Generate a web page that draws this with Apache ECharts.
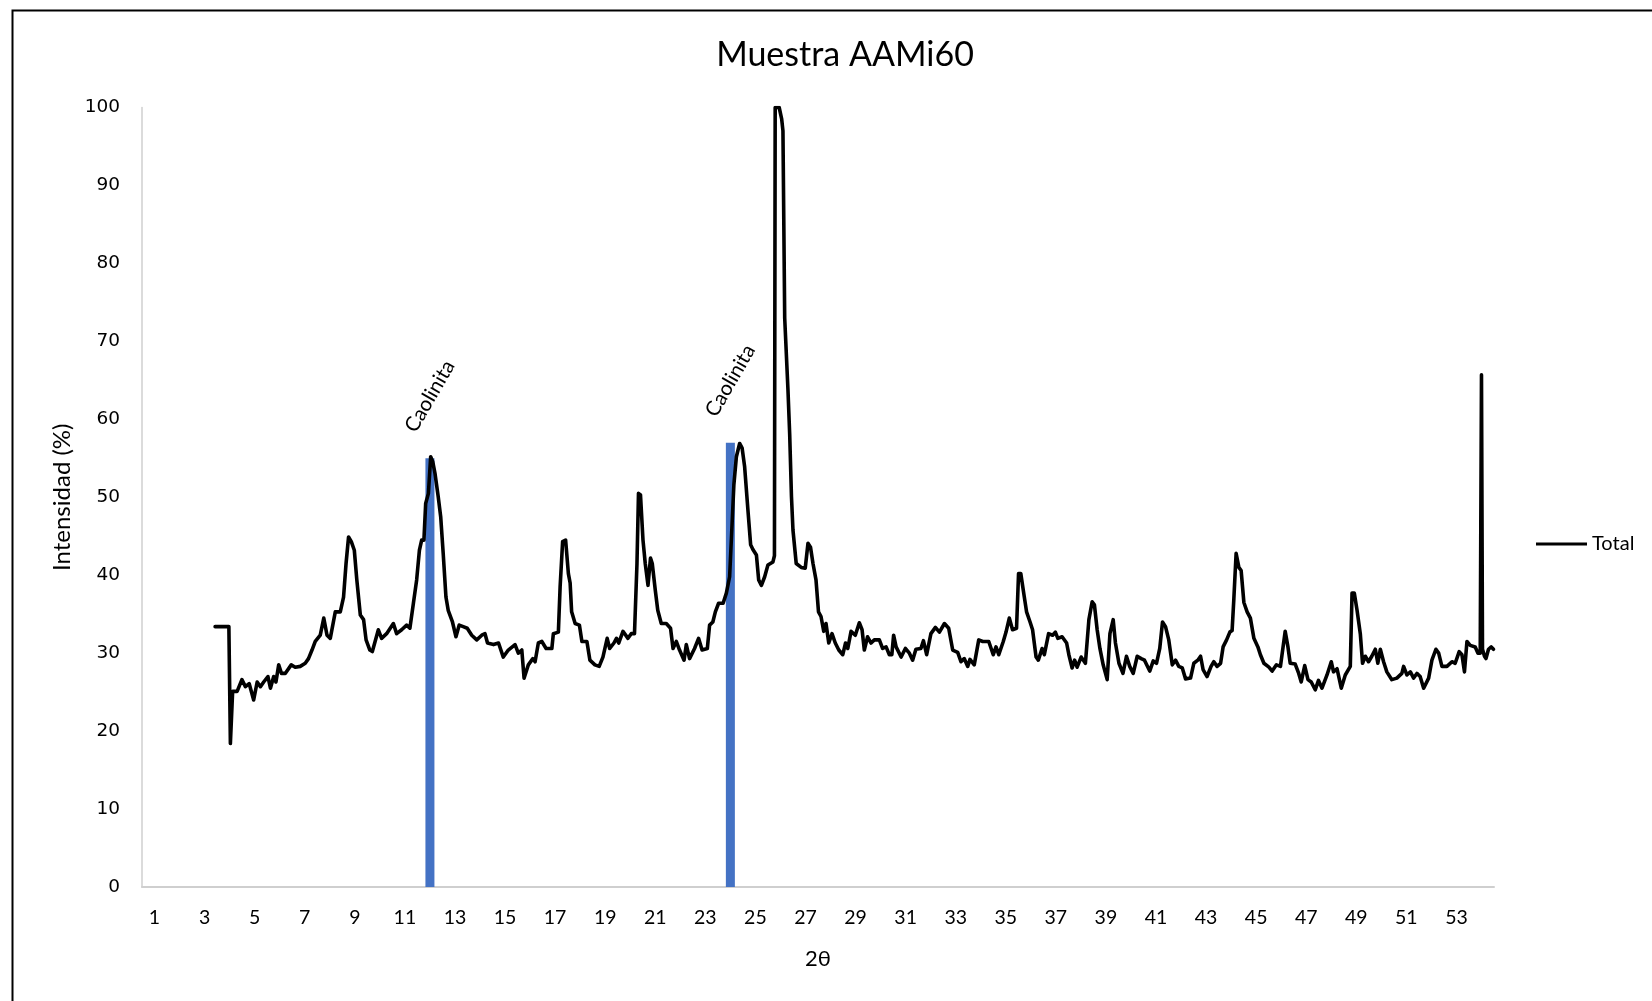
<!DOCTYPE html>
<html>
<head>
<meta charset="utf-8">
<script src="https://cdn.jsdelivr.net/npm/echarts@6/dist/echarts.min.js"></script>
<style>
html,body{margin:0;padding:0;background:#fff;}
#chart{width:1652px;height:1001px;}
</style>
</head>
<body>
<div id="chart"></div>
<script>
const chartTitle = 'Muestra AAMi60';
const seriesName = 'Total';
const peakLabel = 'Caolinita';
const xTickLabels = [1,3,5,7,9,11,13,15,17,19,21,23,25,27,29,31,33,35,37,39,41,43,45,47,49,51,53];
const peakPositions = [12, 24];
const peakHeights = [55, 57];

const twoTheta = [
3.42,3.97,4.03,4.12,4.30,4.49,4.63,4.78,4.96,5.10,5.23,5.36,5.53,5.63,5.76,5.85,5.96,6.07,6.22,6.46,6.62,6.82,7.02,7.15,7.29,7.42,7.62,7.76,7.89,8.02,8.22,8.42,8.55,8.65,8.75,8.86,8.98,9.08,9.22,9.35,9.45,9.60,9.70,
9.94,10.07,10.27,10.54,10.67,10.87,11.07,11.20,11.34,11.47,11.58,11.67,11.76,11.83,11.94,12.03,12.11,12.20,12.33,12.43,12.53,12.64,12.73,12.90,13.04,13.17,13.33,13.49,13.67,13.87,14.07,14.20,14.30,14.54,14.74,14.93,15.13,15.40,15.53,15.67,15.76,15.93,16.11,16.20,16.33,16.47,16.64,16.87,16.93,17.13,17.20,17.30,17.42,17.53,17.60,17.66,17.80,17.97,18.07,18.27,18.39,18.59,18.76,
18.91,19.08,19.18,19.35,19.45,19.54,19.71,19.91,20.04,20.17,20.27,20.33,20.41,20.51,20.60,20.71,20.81,20.88,21.00,21.10,21.24,21.44,21.61,21.71,21.84,21.97,22.15,22.24,22.37,22.57,22.73,22.87,23.08,23.17,23.30,23.40,23.53,23.71,23.84,23.97,24.07,24.14,24.24,24.37,24.47,24.57,24.70,24.81,24.90,25.04,25.13,25.24,25.37,25.50,25.70,25.76,25.79,25.95,26.05,26.10,26.17,26.30,26.37,26.44,26.50,26.63,26.83,26.99,27.10,27.20,27.30,27.42,27.52,27.62,27.73,27.82,
27.93,28.06,28.19,28.33,28.49,28.60,28.69,28.82,28.99,29.15,29.26,29.35,29.48,29.62,29.75,29.95,30.08,30.22,30.35,30.45,30.52,30.62,30.82,30.99,31.15,31.28,31.41,31.61,31.71,31.84,32.01,32.19,32.35,32.55,32.72,32.88,33.08,33.21,33.34,33.48,33.57,33.74,33.92,34.08,34.32,34.50,34.61,34.72,34.90,35.01,35.14,35.27,35.43,35.51,35.60,35.74,35.83,35.97,36.07,36.21,36.30,36.45,36.54,36.71,36.87,36.98,
37.08,37.25,37.43,37.52,37.65,37.75,37.85,38.01,38.18,38.32,38.45,38.54,38.65,38.76,38.89,39.05,39.16,39.29,39.38,39.52,39.68,39.82,39.95,40.09,40.25,40.41,40.54,40.75,40.89,41.02,41.15,41.26,41.38,41.51,41.65,41.78,41.91,42.05,42.18,42.38,42.51,42.67,42.78,42.88,43.04,43.20,43.31,43.44,43.58,43.68,43.82,43.95,44.04,44.11,44.20,44.31,44.40,44.51,44.64,44.77,44.91,45.07,45.17,45.31,45.51,45.64,45.81,45.97,
46.03,46.16,46.27,46.36,46.56,46.70,46.80,46.94,47.07,47.20,47.36,47.49,47.63,47.83,48.00,48.09,48.23,48.40,48.56,48.76,48.83,48.92,49.03,49.16,49.25,49.36,49.49,49.62,49.76,49.86,49.96,50.09,50.22,50.42,50.62,50.82,50.89,51.02,51.16,51.29,51.42,51.55,51.69,51.89,52.02,52.18,52.29,52.42,52.62,52.82,52.95,53.11,53.22,53.32,53.42,53.55,53.75,53.86,53.95,54.00,54.04,54.12,54.18,54.28,54.39,54.48
];

const intensity = [
33.4,33.4,18.4,25.1,25.1,26.6,25.7,26.1,24.0,26.3,25.7,26.3,27.0,25.5,27.0,26.3,28.5,27.4,27.4,28.5,28.2,28.3,28.7,29.3,30.4,31.5,32.3,34.5,32.3,31.9,35.3,35.3,37.2,41.5,44.9,44.3,43.2,39.4,34.9,34.3,31.7,30.4,30.2,
33.0,31.9,32.5,33.8,32.5,33.0,33.6,33.2,36.4,39.4,43.2,44.5,44.5,49.2,50.5,55.2,54.6,53.1,50.1,47.5,42.8,37.2,35.5,34.0,32.1,33.6,33.4,33.2,32.3,31.7,32.3,32.5,31.3,31.1,31.3,29.5,30.4,31.1,30.0,30.4,26.8,28.5,29.3,28.9,31.3,31.5,30.6,30.6,32.5,32.7,38.5,44.3,44.5,40.2,39.0,35.3,33.8,33.6,31.5,31.5,29.1,28.5,28.3,
29.5,31.9,30.6,31.3,31.9,31.3,32.8,31.9,32.5,32.5,41.5,50.5,50.3,44.5,41.5,38.7,42.2,41.5,38.1,35.5,33.8,33.8,33.2,30.6,31.5,30.4,29.1,31.1,29.3,30.6,31.9,30.4,30.6,33.6,34.0,35.3,36.4,36.4,37.7,39.8,46.7,51.6,55.2,56.9,56.3,53.9,48.4,43.9,43.3,42.6,39.4,38.7,39.8,41.3,41.7,42.5,100,100,98.5,97,73,63.8,58,50.1,45.8,41.5,41.0,40.9,44.1,43.6,41.5,39.4,35.3,34.7,32.8,33.8,
31.3,32.5,31.3,30.4,29.8,31.3,30.6,32.8,32.3,33.9,33.0,30.4,32.1,31.3,31.7,31.7,30.6,30.8,29.8,29.8,32.3,30.8,29.5,30.6,30.0,29.1,30.5,30.6,31.6,29.8,32.5,33.3,32.7,33.8,33.2,30.4,30.1,28.9,29.3,28.3,29.2,28.5,31.7,31.5,31.5,29.8,30.8,29.8,31.5,32.7,34.5,33.0,33.2,40.2,40.2,37.2,35.3,34.0,33.0,29.5,29.1,30.6,29.8,32.5,32.3,32.7,
31.9,32.1,31.3,29.8,28.1,29.1,28.2,29.5,28.7,34.3,36.6,36.2,33.0,30.6,28.5,26.6,32.5,34.3,31.3,28.7,27.4,29.6,28.3,27.4,29.6,29.3,29.1,27.7,29.0,28.7,30.6,34.0,33.4,31.7,28.5,29.1,28.3,28.1,26.7,26.8,28.7,29.1,29.6,27.9,27.0,28.3,28.9,28.3,28.7,30.8,31.7,32.7,32.9,37.0,42.8,41.0,40.6,36.5,35.3,34.5,31.9,30.8,29.8,28.7,28.2,27.7,28.5,28.3,
28.5,32.8,30.8,28.7,28.6,27.4,26.3,28.4,26.6,26.3,25.3,26.5,25.5,27.2,28.9,27.6,28.0,25.5,27.2,28.3,37.7,37.7,35.5,32.5,28.7,29.6,28.9,29.6,30.5,28.7,30.5,28.9,27.6,26.6,26.8,27.4,28.3,27.2,27.6,26.8,27.4,27.0,25.5,26.8,29.1,30.5,30.0,28.3,28.3,28.9,28.7,30.2,29.8,27.6,31.5,31.0,30.8,30.0,30.0,65.7,30.5,29.6,29.3,30.5,30.8,30.5
];

const lineData = twoTheta.map((t, i) => [t, intensity[i]]);
const barData = peakPositions.map((p, i) => [p, peakHeights[i]]);

const chart = echarts.init(document.getElementById('chart'), null, {renderer: 'canvas'});
chart.setOption({
  animation: false,
  backgroundColor: '#ffffff',
  title: {
    text: chartTitle,
    left: 840,
    top: 33,
    textAlign: 'center',
    textStyle: {fontFamily: 'Lato', fontSize: 34, fontWeight: 'normal', color: '#000'}
  },
  legend: {
    data: [{name: seriesName, icon: 'rect'}],
    left: 1531,
    top: 529,
    itemWidth: 51,
    itemHeight: 3,
    textStyle: {fontFamily: 'Lato', fontSize: 20, color: '#000'}
  },
  grid: {left: 142, right: 158, top: 107.5, bottom: 114, containLabel: false},
  xAxis: {
    type: 'value',
    min: 0.5,
    max: 54.5,
    name: '2θ',
    nameLocation: 'middle',
    nameGap: 61,
    nameTextStyle: {fontFamily: 'Lato', fontSize: 22, color: '#000'},
    axisLine: {show: true, lineStyle: {color: '#cfcfcf', width: 2}},
    axisTick: {show: false},
    splitLine: {show: false},
    axisLabel: {
      customValues: xTickLabels,
      margin: 21,
      fontFamily: 'Lato', fontSize: 19.5, color: '#000'
    }
  },
  yAxis: {
    type: 'value',
    min: 0,
    max: 100,
    interval: 10,
    name: 'Intensidad (%)',
    nameLocation: 'middle',
    nameGap: 68,
    nameTextStyle: {fontFamily: 'Lato', fontSize: 24, color: '#000'},
    axisLine: {show: true, lineStyle: {color: '#cfcfcf', width: 1.5}},
    axisTick: {show: false},
    splitLine: {show: false},
    axisLabel: {margin: 22, fontFamily: 'DejaVu Sans', fontSize: 18.5, color: '#000'}
  },
  graphic: [{
    type: 'rect',
    left: 10, top: 8,
    shape: {width: 1700, height: 1100},
    style: {fill: 'none', stroke: '#000', lineWidth: 2},
    silent: true, z: 100
  }],
  series: [
    {
      name: peakLabel,
      type: 'bar',
      data: barData,
      barWidth: 9,
      z: 2,
      itemStyle: {color: '#4472C4'},
      label: {
        show: true,
        position: 'top',
        distance: 62,
        rotate: 60,
        align: 'center',
        verticalAlign: 'middle',
        formatter: peakLabel,
        fontFamily: 'Lato', fontSize: 20.5, color: '#000'
      }
    },
    {
      name: seriesName,
      type: 'line',
      data: lineData,
      showSymbol: false,
      symbol: 'none',
      z: 3,
      lineStyle: {color: '#000', width: 3.6, join: 'round', cap: 'round'},
      itemStyle: {color: '#000'}
    }
  ]
});
</script>
</body>
</html>
